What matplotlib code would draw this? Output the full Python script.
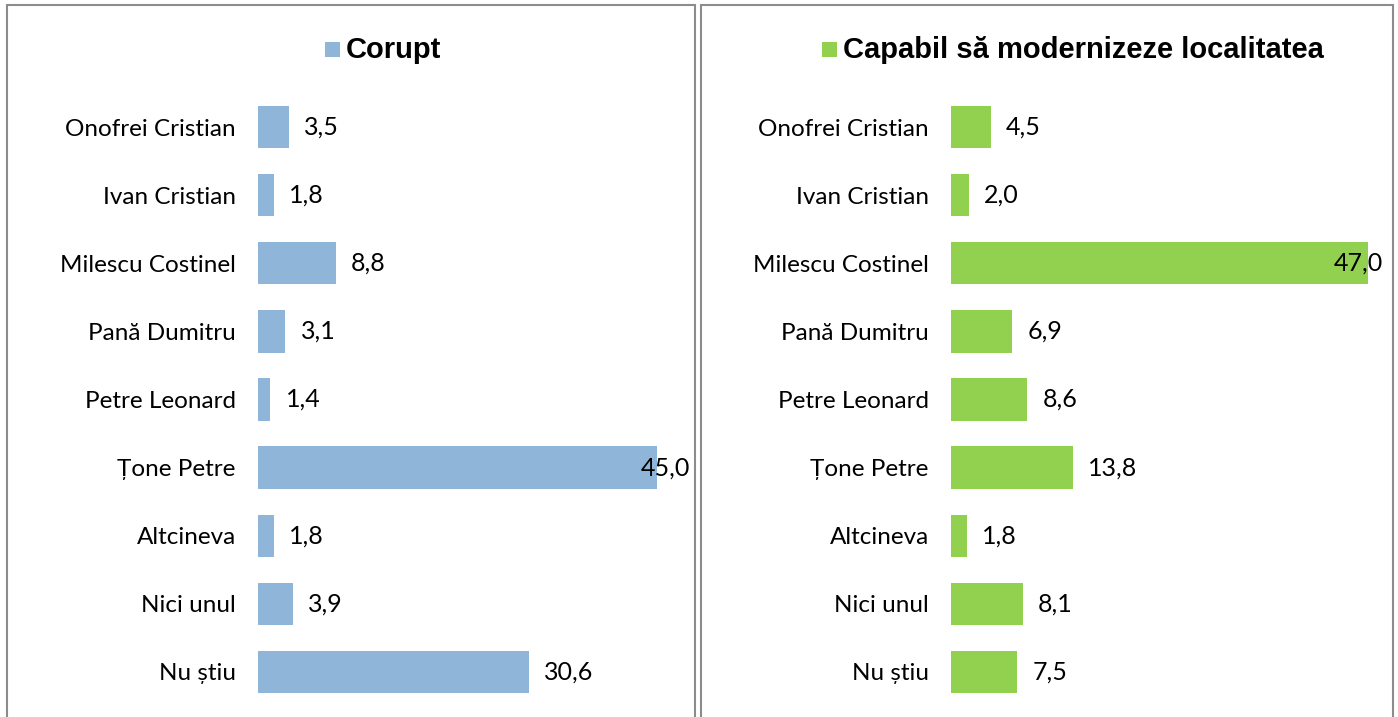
import matplotlib.pyplot as plt
from matplotlib.patches import Rectangle

# --- data ---
candidates = ["Onofrei Cristian", "Ivan Cristian", "Milescu Costinel", "Pană Dumitru",
              "Petre Leonard", "Țone Petre", "Altcineva", "Nici unul", "Nu știu"]
corupt = [3.5, 1.8, 8.8, 3.1, 1.4, 45.0, 1.8, 3.9, 30.6]
capabil = [4.5, 2.0, 47.0, 6.9, 8.6, 13.8, 1.8, 8.1, 7.5]

BLUE = "#8fb6d9"
GREEN = "#92d050"
FONT = "Lato"

W, H = 1398, 717
fig = plt.figure(figsize=(W / 100, H / 100), dpi=100)

XMAX = 49.3


def panel(x0, x1, ax_left, series, color, legend_text, leg_x):
    # panel border
    fig.patches.append(Rectangle((x0 / W, -0.05), (x1 - x0) / W, (H - 5) / H + 0.05,
                                 transform=fig.transFigure, fill=False,
                                 edgecolor="#8c8c8c", linewidth=1.5))
    ax = fig.add_axes([ax_left / W, 11 / H, 437 / W, 613 / H])
    y = list(range(len(candidates)))
    ax.barh(y, series, height=0.62, color=color)
    ax.set_xlim(0, XMAX)
    ax.set_ylim(len(candidates) - 0.5, -0.5)
    ax.set_yticks(y)
    ax.set_yticklabels(candidates, fontsize=17.5, family=FONT)
    ax.tick_params(axis="y", length=0, pad=16)
    ax.set_xticks([])
    for s in ax.spines.values():
        s.set_visible(False)
    for yi, v in zip(y, series):
        lbl = f"{v:.1f}".replace(".", ",")
        tx = v + 1.7
        if tx + 5 > XMAX:
            ax.text(XMAX - 0.6, yi, lbl, va="center", ha="right", fontsize=18, family=FONT)
        else:
            ax.text(tx, yi, lbl, va="center", ha="left", fontsize=18, family=FONT)
    # legend
    fig.patches.append(Rectangle((leg_x / W, 1 - 57 / H), 15 / W, 15 / H,
                                 transform=fig.transFigure, facecolor=color, edgecolor="none"))
    fig.text((leg_x + 21) / W, 1 - 50 / H, legend_text, fontsize=21, fontweight="bold",
             family="Liberation Sans", va="center", ha="left")
    return ax


panel(7, 695, 258, corupt, BLUE, "Corupt", 325)
panel(701, 1393, 951, capabil, GREEN, "Capabil să modernizeze localitatea", 822)

fig.savefig("out.png", dpi=100)
